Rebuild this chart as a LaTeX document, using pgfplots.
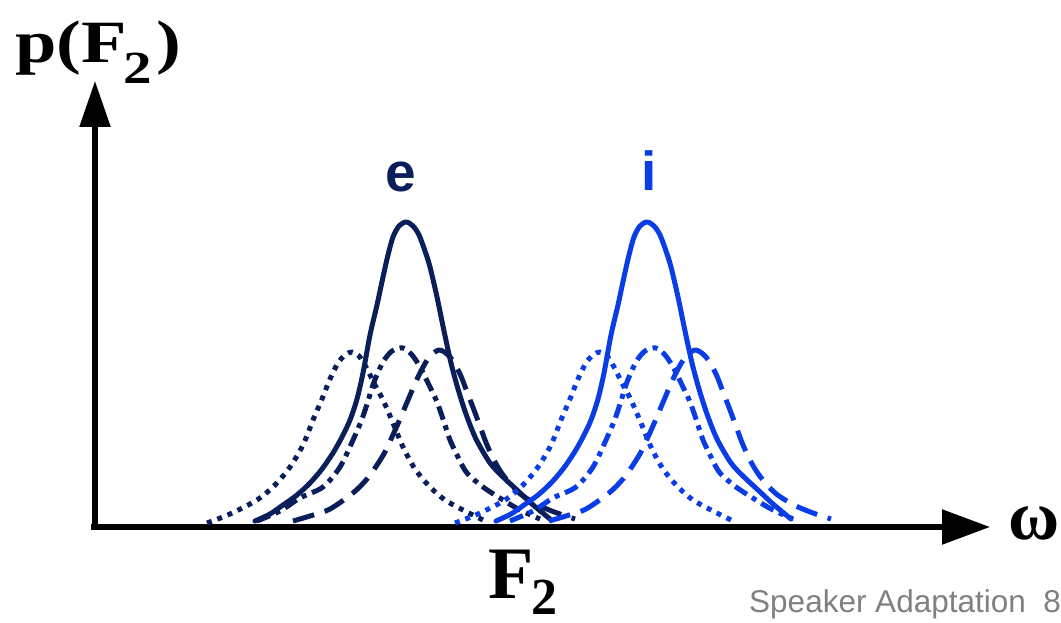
\documentclass[border=0pt]{standalone}
\usepackage{pgfplots}
\pgfplotsset{compat=1.18}
\usepackage{fontspec}
\setmainfont{Liberation Serif}
\newfontfamily\sansfont{Liberation Sans}
\usetikzlibrary{arrows.meta}

\definecolor{navyE}{RGB}{10,30,90}
\definecolor{blueI}{RGB}{10,61,230}
\definecolor{footgray}{RGB}{128,128,128}

% F2 distributions: x = frequency position, h = density height
\pgfplotstableread{
x h
255 6
270 13
283 22
297 32
310 44
322 58
333 74
342 90
350 107
357 128
363 154
370 192
377 222
383 250
388 272
393 290
399 301
406 305
413 301
419 292
425 276
430 260
437 230
444 196
451 164
458 138
466 113
476 88
490 64
503 50
517 37
532 23
550 8
}\eSolid
\pgfplotstableread{
x h
207 4
230 13
257 27
275 42
290 60
303 82
313 107
322 128
330 148
338 164
345 172
352 175
359 171
366 160
375 142
383 127
393 104
403 80
415 58
430 40
445 27
463 17
487 5
}\eDotted
\pgfplotstableread{
x h
257 6
280 16
300 29
323 40
340 60
353 87
362 108
368 126
374 145
383 165
392 176
403 179
412 172
420 160
430 140
437 125
444 105
450 87
459 68
467 54
483 40
503 27
520 17
540 8
}\eDashDot
\pgfplotstableread{
x h
293 6
310 11
330 18
353 34
367 48
377 62
385 75
392 90
400 108
408 127
418 150
428 168
439 177
450 170
460 153
467 135
474 117
481 98
487 82
495 65
503 52
513 40
523 31
540 21
557 14
575 8
}\eDashed
\pgfplotstableread{
x h
496 6
511 13
524 22
538 32
551 44
563 58
574 74
583 90
591 107
598 128
604 154
611 192
618 222
624 250
629 272
634 290
640 301
647 305
654 301
660 292
666 276
671 260
678 230
685 196
692 164
699 138
707 113
717 88
731 64
744 50
758 37
773 23
791 8
}\iSolid
\pgfplotstableread{
x h
455 4
478 13
505 27
523 42
538 60
551 82
561 107
570 128
578 148
586 164
593 172
600 175
607 171
614 160
623 142
631 127
641 104
651 80
663 58
678 40
693 27
711 17
735 5
}\iDotted
\pgfplotstableread{
x h
510 6
533 16
553 29
576 40
593 60
606 87
615 108
621 126
627 145
636 165
645 176
656 179
665 172
673 160
683 140
690 125
697 105
703 87
712 68
720 54
736 40
756 27
773 17
793 8
}\iDashDot
\pgfplotstableread{
x h
549 6
566 11
586 18
609 34
623 48
633 62
641 75
648 90
656 108
664 127
674 150
684 168
695 177
706 170
716 153
723 135
730 117
737 98
743 82
751 65
759 52
769 40
779 31
796 21
813 14
831 8
}\iDashed

\begin{document}
\begin{tikzpicture}
\begin{axis}[
  scale only axis, width=1061bp, height=623bp,
  xmin=0, xmax=1061, ymin=-96, ymax=527,
  hide axis, clip=false,
  at={(0,0)}, anchor=south west,
  every axis plot/.append style={line width=5bp, smooth, line join=round},
  solidc/.style={line cap=round},
  dotc/.style={line cap=butt, dash pattern=on 5bp off 6bp},
  dashc/.style={line cap=butt, dash pattern=on 22bp off 11bp},
  dashdotc/.style={line cap=butt, dash pattern=on 14bp off 6bp on 5bp off 6bp},
]
% axes
\draw[line width=5.5bp, -{Triangle[length=48bp,width=34bp]}] (axis cs:91,0) -- (axis cs:990,0);
\draw[line width=5.5bp, -{Triangle[length=46bp,width=30bp]}] (axis cs:95,-2.75) -- (axis cs:95,446);

% vowel e
\addplot[navyE, dotc] table[x=x, y=h] {\eDotted};
\addplot[navyE, dashdotc] table[x=x, y=h] {\eDashDot};
\addplot[navyE, dashc] table[x=x, y=h] {\eDashed};
\addplot[navyE, solidc] table[x=x, y=h] {\eSolid};
% vowel i
\addplot[blueI, dotc] table[x=x, y=h] {\iDotted};
\addplot[blueI, dashdotc] table[x=x, y=h] {\iDashDot};
\addplot[blueI, dashc] table[x=x, y=h] {\iDashed};
\addplot[blueI, solidc] table[x=x, y=h] {\iSolid};

% labels
\node[anchor=base west, inner sep=0, font=\fontsize{60bp}{60bp}\selectfont\bfseries]
  at (axis cs:15,464) {\scalebox{1.24}[1]{p(F\kern-3bp\raisebox{-21bp}{\fontsize{46bp}{46bp}\selectfont 2}\kern4bp)}};
\node[anchor=base west, inner sep=0, font=\fontsize{74bp}{74bp}\selectfont\bfseries]
  at (axis cs:488,-71) {F\kern-2bp\raisebox{-16bp}{\fontsize{52bp}{52bp}\selectfont 2}};
\node[anchor=base west, inner sep=0, font=\fontsize{70bp}{70bp}\selectfont\bfseries]
  at (axis cs:1008,-13) {ω};
\node[anchor=base, inner sep=0, text=navyE, font=\sansfont\bfseries\fontsize{55bp}{55bp}\selectfont]
  at (axis cs:401,335) {e};
\node[anchor=base, inner sep=0, text=blueI, font=\sansfont\bfseries\fontsize{55bp}{55bp}\selectfont]
  at (axis cs:649,336) {i};
\node[anchor=base west, inner sep=0, text=footgray, font=\sansfont\fontsize{31.5bp}{31.5bp}\selectfont]
  at (axis cs:749,-85) {Speaker Adaptation\ \ 8};
\end{axis}
\pgfresetboundingbox
\useasboundingbox (0,0) rectangle (1061bp,623bp);
\end{tikzpicture}
\end{document}
